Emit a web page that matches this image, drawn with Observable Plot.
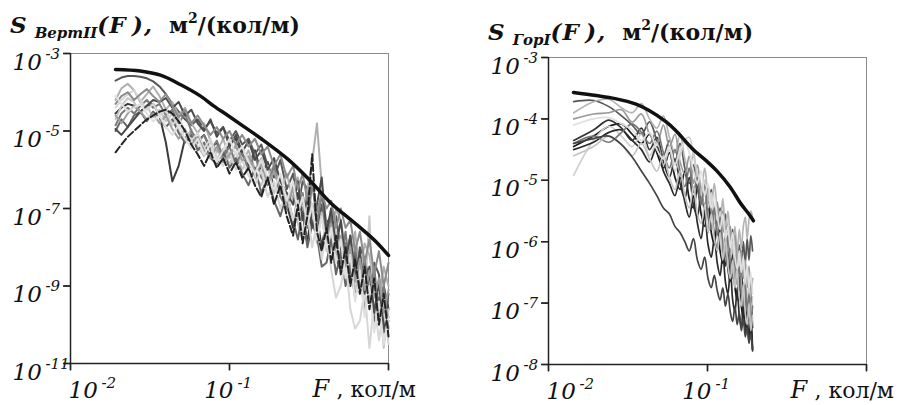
<!DOCTYPE html>
<html><head><meta charset="utf-8">
<script src="https://cdn.jsdelivr.net/npm/d3@7"></script>
<script src="https://cdn.jsdelivr.net/npm/@observablehq/plot@0.6"></script>
<style>
body{margin:0;background:#fff;}
#wrap{position:relative;width:909px;height:405px;overflow:hidden;font-family:'DejaVu Serif',serif;color:#111;}
.title{position:absolute;font-weight:bold;font-size:22px;line-height:26px;white-space:nowrap;}
.title i{font-style:italic;}
.title .S{font-size:23px;}
.title .sb{font-size:15px;font-style:italic;position:relative;top:5px;margin-left:8px;}
.title .fn{font-size:23px;letter-spacing:1px;}
.title .un{margin-left:16px;}
.title .sp{font-size:14px;position:relative;top:-10px;}
#left{position:absolute;left:0;top:40px;}
#right{position:absolute;left:455px;top:40px;}
</style></head>
<body>
<div id="wrap">
  <div class="title" style="left:10px;top:12px;"><i class="S">S</i><span class="sb">ВертII</span><i class="fn">(F&#8201;),</i><span class="un">м<span class="sp">2</span>/(кол/м)</span></div>
  <div class="title" style="left:488px;top:19px;"><i class="S">S</i><span class="sb">ГорI</span><i class="fn">(F&#8201;),</i><span class="un">м<span class="sp">2</span>/(кол/м)</span></div>
  <div id="left"></div>
  <div id="right"></div>
</div>
<script>
// ---------- shared axis labels ----------
const xTickValues = [0.01, 0.1, 1];
const xLabelValues = [0.01, 0.1];
const xLabelExps = ["-2", "-1"];
const xAxisName = "F";
const xAxisUnit = ", кол/м";

// ---------- left panel (Верт II) ----------
const vertYTicks = [1e-3, 1e-5, 1e-7, 1e-9, 1e-11];
const vertYExps = ["-3", "-5", "-7", "-9", "-11"];
const vertF = [0.0192, 0.0209, 0.0229, 0.0251, 0.0275, 0.0302, 0.0331, 0.0363, 0.0398, 0.0437, 0.0479, 0.0525, 0.0575, 0.0631, 0.0692, 0.0759, 0.0832, 0.0912, 0.1, 0.1096, 0.1202, 0.1318, 0.1445, 0.1585, 0.1738, 0.1905, 0.2089, 0.2291, 0.2512, 0.2692, 0.2884, 0.3090, 0.3311, 0.3548, 0.3802, 0.4074, 0.4365, 0.4677, 0.5012, 0.5370, 0.5754, 0.6166, 0.6607, 0.7079, 0.7586, 0.8128, 0.8710, 0.9333, 1.0];
// log10 of spectral density for each record
const vertA = [-4.55,-4.40,-4.30,-4.35,-4.50,-4.35,-4.30, -4.60,-5.30,-6.30,-5.90,-5.20,-5.00,-5.25, -5.10,-5.45,-5.30,-5.65,-5.35,-5.20,-5.60, -5.90,-5.50,-6.10,-5.80,-6.50,-6.20,-6.90, -7.50,-6.60,-7.10,-7.90,-6.90,-7.20,-8.00, -7.30,-7.50,-8.30,-8.60,-7.90,-8.80,-8.10, -9.10,-8.40,-8.70,-9.60,-9.90,-9.00,-9.60];
const vertB = [-3.70,-3.62,-3.58,-3.58,-3.60,-3.64,-3.72, -3.85,-4.05,-4.30,-4.50,-4.70,-4.85,-4.70, -4.95,-4.75,-5.05,-4.90,-5.25,-5.00,-5.35, -5.20,-5.60,-5.35,-5.90,-6.20,-5.75,-6.50, -6.10,-7.00,-6.30,-6.50,-7.40,-7.60,-6.90, -7.80,-7.00,-7.20,-8.10,-8.40,-7.70,-8.80, -8.00,-8.30,-9.20,-8.40,-8.70,-10.00,-9.20];
const vertC = [-4.20,-3.90,-3.78,-3.95,-4.25,-4.05,-3.85, -4.10,-4.45,-4.25,-4.60,-4.40,-4.80,-5.05, -4.80,-5.25,-5.55,-5.20,-5.70,-5.35,-5.80, -5.50,-6.00,-5.70,-6.30,-5.85,-6.60,-6.10, -6.80,-6.20,-7.20,-6.50,-5.80,-4.80,-6.40, -7.40,-7.90,-7.00,-7.30,-8.10,-8.40,-7.60, -8.70,-7.90,-8.20,-9.00,-9.40,-8.50,-9.00];
const vertD = [-4.70,-4.35,-4.15,-4.25,-4.55,-4.35,-4.65, -4.45,-4.75,-4.55,-5.00,-5.25,-4.95,-5.40, -5.65,-5.30,-5.75,-5.45,-5.85,-5.55,-6.00, -5.70,-6.20,-6.40,-5.90,-6.60,-6.20,-7.00, -6.40,-7.40,-7.80,-6.70,-6.90,-7.90,-7.10, -8.10,-7.30,-7.60,-8.40,-8.80,-7.90,-9.20, -8.40,-9.30,-7.20,-10.10,-9.20,-10.60,-9.60];
const vertE = [-4.85,-4.55,-4.40,-4.55,-4.35,-4.20,-4.40, -4.30,-4.60,-4.45,-4.80,-4.55,-5.00,-5.30, -5.10,-5.50,-5.25,-5.70,-5.40,-5.85,-5.55, -6.00,-5.60,-6.20,-6.40,-5.90,-6.70,-7.00, -6.40,-7.20,-6.60,-7.50,-6.30,-7.40,-6.60, -7.80,-7.20,-8.20,-8.40,-7.60,-8.70,-8.00, -9.00,-8.30,-9.30,-8.50,-9.80,-9.00,-10.10];
const vertF2 = [-5.55,-5.35,-5.15,-5.00,-4.85,-4.70,-4.60, -4.50,-4.45,-4.55,-4.75,-5.00,-5.35,-5.60, -5.90,-5.55,-5.95,-5.70,-6.10,-5.80,-6.20, -5.95,-6.40,-6.70,-6.20,-6.90,-6.40,-7.20, -7.70,-6.90,-7.90,-7.20,-5.60,-7.60,-8.10, -7.50,-8.40,-7.70,-8.70,-8.00,-9.00,-8.30, -9.20,-8.50,-9.60,-8.80,-10.00,-9.20,-10.30];
const vertG = [-5.00,-4.70,-4.90,-4.60,-4.50,-4.75,-4.50, -4.65,-4.90,-4.70,-5.05,-5.30,-5.10,-5.50, -5.30,-5.70,-5.85,-5.50,-5.95,-5.70,-6.10, -6.40,-5.95,-6.60,-6.20,-6.80,-7.20,-6.60, -7.30,-7.80,-7.10,-8.00,-7.40,-7.70,-8.50, -8.40,-7.80,-8.70,-8.10,-9.00,-8.40,-9.30, -8.70,-9.60,-9.10,-9.90,-9.30,-10.20,-9.90];
const vertH = [-4.40,-4.20,-4.05,-3.95,-4.20,-4.45,-4.30, -4.60,-4.45,-4.85,-4.65,-5.00,-5.25,-5.05, -5.45,-5.20,-5.65,-5.90,-5.55,-6.00,-5.75, -6.15,-6.40,-6.00,-6.70,-6.30,-7.00,-6.60, -7.30,-6.80,-7.70,-7.10,-8.00,-7.40,-8.30, -7.60,-8.60,-9.30,-9.00,-8.30,-9.60,-10.10, -9.90,-9.10,-10.60,-9.40,-10.40,-9.60,-10.50];
const vertI = [-4.95,-5.10,-4.90,-4.70,-4.50,-4.35,-4.20, -4.25,-4.15,-4.40,-4.25,-4.60,-4.45,-4.80, -5.00,-4.70,-5.15,-4.90,-5.40,-5.10,-5.55, -5.25,-5.75,-5.50,-6.00,-5.70,-6.30,-6.60, -6.90,-6.30,-7.30,-6.70,-7.50,-6.90,-6.20, -7.60,-7.00,-8.00,-7.30,-8.40,-7.70,-8.80, -8.10,-9.20,-8.50,-9.70,-8.90,-10.10,-9.80];
const vertJ = [-4.30,-4.10,-4.00,-4.20,-4.05,-3.92,-4.10, -4.25,-4.05,-4.35,-4.65,-4.45,-4.80,-4.60, -4.85,-5.10,-4.90,-5.20,-5.00,-5.35,-5.10, -5.40,-5.20,-5.60,-5.40,-5.90,-5.60,-6.20, -5.90,-6.50,-6.10,-6.80,-6.30,-7.10,-6.60, -7.00,-6.80,-7.50,-7.00,-7.50,-7.30,-8.10, -7.60,-8.40,-7.80,-8.70,-8.10,-9.00,-8.40];
const vertK = [-4.60,-4.80,-4.55,-4.35,-4.50,-4.70,-4.55, -4.80,-4.60,-4.95,-5.20,-4.95,-5.35,-5.15, -5.50,-5.70,-5.40,-5.80,-5.60,-5.40,-5.75, -5.65,-6.05,-5.85,-6.35,-6.05,-6.50,-6.85, -6.50,-7.10,-6.80,-7.40,-7.00,-7.70,-7.20, -7.90,-7.40,-8.30,-7.70,-8.50,-8.00,-8.90, -8.30,-9.10,-8.60,-9.30,-8.80,-9.70,-9.10];
const vertL = [-4.10,-4.30,-4.50,-4.40,-4.30,-4.55,-4.75, -4.60,-4.90,-5.10,-4.85,-5.20,-5.45,-5.20, -5.60,-5.35,-5.80,-5.50,-5.20,-5.60,-5.40, -5.80,-6.10,-5.75,-6.20,-6.50,-6.10,-6.80, -6.30,-7.10,-6.70,-7.40,-6.90,-7.80,-7.20, -8.00,-7.50,-8.40,-7.80,-8.80,-8.20,-9.40, -8.60,-9.80,-9.00,-10.20,-9.40,-10.50,-9.80];
// model (thick black) curve
const vertModelF = [0.0192, 0.0275, 0.0368, 0.049, 0.0658, 0.0794, 0.0977, 0.1225, 0.1585, 0.2317, 0.3162, 0.4315, 0.5623, 0.6668, 0.8318, 1.0];
const vertModelLg = [-3.41, -3.45, -3.56, -3.80, -4.10, -4.35, -4.60, -4.88, -5.20, -5.72, -6.25, -6.85, -7.25, -7.50, -7.85, -8.21];

// ---------- right panel (Гор I) ----------
const horYTicks = [1e-3, 1e-4, 1e-5, 1e-6, 1e-7, 1e-8];
const horYExps = ["-3", "-4", "-5", "-6", "-7", "-8"];
const horF = [0.0144, 0.0192, 0.024, 0.0288, 0.0336, 0.0384, 0.0432, 0.048, 0.0528, 0.0576, 0.0624, 0.0672, 0.072, 0.0768, 0.0816, 0.0864, 0.0912, 0.096, 0.1008, 0.1056, 0.1104, 0.1152, 0.12, 0.1248, 0.1296, 0.1344, 0.1392, 0.144, 0.1488, 0.1536, 0.1584, 0.1632, 0.168, 0.1728, 0.1776, 0.1824, 0.1872, 0.192];
const hor1 = [-4.45,-4.28,-4.12,-4.08,-4.25,-4.40,-4.25,-4.55,-4.80,-4.55, -4.95,-5.15,-4.85,-5.30,-5.45,-5.10,-5.55,-5.75,-5.35,-5.85, -6.05,-5.65,-6.15,-6.35,-5.90,-6.45,-6.65,-6.20,-6.75,-6.95, -6.50,-7.05,-7.25,-6.80,-7.35,-7.55,-7.20,-7.75];
const hor2 = [-4.35,-4.18,-4.02,-4.15,-4.35,-4.15,-4.50,-4.30,-4.70,-4.95, -4.65,-5.05,-5.30,-4.95,-5.40,-5.60,-5.20,-5.55,-5.85,-5.45, -5.90,-6.15,-5.70,-6.15,-6.40,-6.00,-6.50,-6.15,-6.65,-6.30, -6.80,-6.45,-6.95,-6.55,-7.05,-7.30,-6.85,-7.40];
const hor3 = [-3.72,-3.70,-3.80,-3.95,-4.10,-4.25,-4.05,-4.35,-4.60,-4.35, -4.70,-4.40,-4.80,-5.05,-4.75,-5.15,-5.35,-5.00,-5.45,-5.15, -5.55,-5.80,-5.45,-5.85,-5.55,-6.00,-6.25,-5.80,-6.25,-6.45, -6.05,-6.40,-6.00,-6.35,-5.95,-6.30,-5.90,-6.15];
const hor4 = [-3.90,-3.72,-3.68,-3.82,-3.90,-3.75,-4.00,-4.15,-3.95,-4.30, -4.55,-4.25,-4.65,-4.85,-4.55,-5.00,-5.15,-4.80,-5.25,-5.40, -5.05,-5.50,-5.70,-5.30,-5.80,-5.50,-5.95,-6.15,-5.75,-6.20, -5.80,-6.10,-5.75,-5.60,-5.95,-5.65,-5.50,-5.60];
const hor5 = [-4.00,-3.92,-3.90,-3.85,-4.05,-3.92,-4.25,-4.40,-4.10,-4.45, -4.25,-4.70,-4.90,-4.60,-5.05,-4.75,-5.20,-5.40,-5.10,-5.50, -5.70,-5.35,-5.80,-5.50,-5.95,-6.15,-5.75,-6.20,-5.90,-6.35, -6.55,-6.15,-6.60,-6.30,-6.75,-6.40,-6.90,-6.60];
const hor6 = [-4.92,-4.35,-4.12,-4.28,-4.45,-4.25,-4.60,-4.40,-4.75,-4.50, -4.85,-4.60,-4.35,-4.30,-4.60,-4.90,-5.25,-5.00,-5.45,-5.20, -5.60,-5.85,-5.50,-5.95,-6.20,-5.85,-6.30,-6.00,-6.45,-6.65, -6.25,-6.70,-6.95,-6.55,-7.05,-6.70,-7.20,-6.90];
const hor7 = [-4.50,-4.38,-4.22,-4.18,-4.35,-4.50,-4.70,-4.45,-4.85,-5.05, -5.25,-4.95,-5.35,-5.60,-5.25,-5.70,-5.95,-5.55,-6.05,-6.25, -5.95,-6.35,-6.55,-6.20,-6.65,-6.85,-6.45,-6.95,-7.15,-6.75, -7.20,-7.40,-7.00,-7.50,-7.20,-7.65,-7.35,-7.78];
const hor8 = [-4.40,-4.28,-4.38,-4.22,-4.08,-4.22,-4.40,-4.20,-4.55,-4.80, -4.50,-4.85,-5.10,-4.80,-5.20,-4.95,-5.40,-5.10,-5.60,-5.80, -5.45,-5.90,-5.60,-6.05,-6.25,-5.90,-6.35,-6.60,-6.25,-6.70, -6.40,-6.85,-7.05,-6.70,-7.15,-6.85,-7.30,-7.05];
const hor9 = [-4.60,-4.45,-4.28,-4.42,-4.60,-4.40,-4.65,-4.85,-4.60,-4.95, -5.15,-4.85,-5.25,-5.45,-5.10,-5.55,-5.70,-5.40,-5.85,-5.55, -5.95,-6.15,-5.85,-6.30,-5.95,-6.40,-6.60,-6.30,-6.75,-6.45, -6.90,-7.05,-6.70,-7.15,-7.35,-7.00,-7.45,-7.20];
const hor10 = [-4.40,-4.32,-4.28,-4.42,-4.62,-4.85,-5.05,-5.25,-5.45,-5.55, -5.75,-5.85,-6.00,-6.15,-5.95,-6.30,-6.45,-6.25,-6.60,-6.75, -6.55,-6.80,-6.95,-6.75,-7.05,-6.85,-7.15,-7.30,-7.05,-7.35, -7.15,-7.45,-7.25,-7.55,-7.40,-7.65,-7.50,-7.75];
const hor11 = [-4.10,-4.00,-3.98,-4.08,-4.18,-4.35,-4.22,-4.50,-4.65,-4.45, -4.75,-4.50,-4.40,-4.55,-4.85,-5.05,-4.85,-5.25,-5.05,-5.45, -5.25,-5.60,-5.80,-5.55,-5.95,-5.75,-6.10,-5.85,-6.25,-6.45, -6.15,-6.50,-6.25,-6.65,-6.40,-6.75,-6.50,-6.85];
const horModelF = [0.01435, 0.01995, 0.0263, 0.0355, 0.0427, 0.0550, 0.0631, 0.0813, 0.1, 0.1148, 0.138, 0.162, 0.182, 0.1945];
const horModelLg = [-3.57, -3.62, -3.67, -3.76, -3.86, -4.05, -4.19, -4.50, -4.70, -4.85, -5.10, -5.38, -5.55, -5.66];

// ---------- styling (kept apart from data) ----------
const FONT = "DejaVu Serif";
const vertSeries = [
  ["A", vertA, "#3a3a3a", null], ["B", vertB, "#575757", null], ["C", vertC, "#b0b0b0", null],
  ["D", vertD, "#c6c6c6", null], ["E", vertE, "#7a7a7a", null], ["F", vertF2, "#222222", "7,3"],
  ["G", vertG, "#666666", null], ["H", vertH, "#d6d6d6", null], ["I", vertI, "#4a4a4a", null],
  ["J", vertJ, "#8c8c8c", null], ["K", vertK, "#9e9e9e", null], ["L", vertL, "#e0e0e0", null]
];
const horSeries = [
  ["1", hor1, "#1a1a1a", null], ["2", hor2, "#333333", null], ["3", hor3, "#555555", null],
  ["4", hor4, "#b5b5b5", null], ["5", hor5, "#999999", null], ["6", hor6, "#d0d0d0", null],
  ["7", hor7, "#2a2a2a", null], ["8", hor8, "#777777", null], ["9", hor9, "#c4c4c4", null],
  ["10", hor10, "#444444", null], ["11", hor11, "#e0e0e0", null]
];

// tick glyphs drawn at the frame edge (a short stroke pointing outward)
const tickLeft = {draw(ctx) { ctx.moveTo(-7, 0); ctx.lineTo(0, 0); }};
const tickDown = {draw(ctx) { ctx.moveTo(0, 0); ctx.lineTo(0, 7); }};

function panel(cfg) {
  const rows = [];
  for (const [id, lg, , dash] of cfg.series) {
    const n = Math.min(lg.length, cfg.F.length);
    for (let i = 0; i < n; i++) rows.push({F: cfg.F[i], S: Math.pow(10, lg[i]), id, dashed: !!dash});
  }
  const model = cfg.modelF.map((f, i) => ({F: f, S: Math.pow(10, cfg.modelLg[i])}));
  const yLab = cfg.yTicks.map((v, i) => ({v, e: cfg.yExps[i]}));
  const xLab = xLabelValues.map((v, i) => ({v, e: xLabelExps[i]}));
  const ids = cfg.series.map(s => s[0]);
  const cols = cfg.series.map(s => s[2]);
  const dashSpec = (cfg.series.find(s => s[3]) || [])[3];
  const plotW = cfg.width - cfg.mL - cfg.mR;
  const plotH = cfg.height - cfg.mT - cfg.mB;
  const txt = {fontFamily: FONT, fill: "#111", lineAnchor: "bottom"};
  const marks = [
    Plot.frame({stroke: "#8a8a8a", strokeWidth: 1}),
    Plot.line(rows, {filter: d => !d.dashed, x: "F", y: "S", z: "id", stroke: "id", strokeWidth: cfg.sw, curve: cfg.curve}),
    Plot.line(rows, {filter: d => d.dashed, x: "F", y: "S", z: "id", stroke: "id", strokeWidth: cfg.sw, strokeDasharray: dashSpec, curve: cfg.curve}),
    Plot.line(model, {x: "F", y: "S", stroke: "#111", strokeWidth: 3.5, curve: "catmull-rom"}),
    Plot.ruleX([0.01], {stroke: "#222", strokeWidth: 1.5}),
    Plot.ruleY([cfg.yDomain[0]], {stroke: "#222", strokeWidth: 1.5}),
    // tick marks outside the frame
    Plot.tickY(cfg.yTicks, {y: d => d, stroke: "#222", strokeWidth: 1.4, insetLeft: -7, insetRight: plotW}),
    Plot.tickX(xTickValues, {x: d => d, stroke: "#222", strokeWidth: 1.4, insetTop: plotH, insetBottom: -7}),
    Plot.dot(cfg.yTicks, {y: d => d, frameAnchor: "left", symbol: tickLeft, r: 3, fill: "none", stroke: "#222", strokeWidth: 1.4}),
    Plot.dot(xTickValues, {x: d => d, frameAnchor: "bottom", symbol: tickDown, r: 3, fill: "none", stroke: "#222", strokeWidth: 1.4}),
    // y tick labels: "10" + exponent
    Plot.text(yLab, {...txt, y: "v", frameAnchor: "left", text: () => "10", textAnchor: "start", dx: -58, dy: 16, fontSize: 23, fontStyle: "italic"}),
    Plot.text(yLab, {...txt, y: "v", frameAnchor: "left", text: "e", textAnchor: "start", dx: -25, dy: 5, fontSize: 15, fontStyle: "italic"}),
    // x tick labels
    Plot.text(xLab, {...txt, filter: (d, i) => i === 0, x: "v", frameAnchor: "bottom", text: () => "10", textAnchor: "start", dx: -2, dy: 34, fontSize: 23, fontStyle: "italic"}),
    Plot.text(xLab, {...txt, filter: (d, i) => i === 0, x: "v", frameAnchor: "bottom", text: "e", textAnchor: "start", dx: 31, dy: 24, fontSize: 15, fontStyle: "italic"}),
    Plot.text(xLab, {...txt, filter: (d, i) => i > 0, x: "v", frameAnchor: "bottom", text: () => "10", textAnchor: "end", dx: 4, dy: 34, fontSize: 23, fontStyle: "italic"}),
    Plot.text(xLab, {...txt, filter: (d, i) => i > 0, x: "v", frameAnchor: "bottom", text: "e", textAnchor: "start", dx: 8, dy: 24, fontSize: 15, fontStyle: "italic"}),
    // axis name at 10^0
    Plot.text([1], {...txt, x: d => d, frameAnchor: "bottom", text: () => xAxisName, textAnchor: "start", dx: -76, dy: 33, fontSize: 24, fontStyle: "italic"}),
    Plot.text([1], {...txt, x: d => d, frameAnchor: "bottom", text: () => xAxisUnit, textAnchor: "start", dx: -52, dy: 33, fontSize: 22})
  ];
  return Plot.plot({
    width: cfg.width, height: cfg.height,
    marginLeft: cfg.mL, marginRight: cfg.mR, marginTop: cfg.mT, marginBottom: cfg.mB,
    style: {background: "transparent", overflow: "visible", color: "#222"},
    x: {type: "log", domain: [0.01, 1], axis: null},
    y: {type: "log", domain: cfg.yDomain, axis: null},
    color: {type: "ordinal", domain: ids, range: cols},
    marks
  });
}

document.getElementById("left").appendChild(panel({
  F: vertF, series: vertSeries, modelF: vertModelF, modelLg: vertModelLg,
  yDomain: [1e-11, 1e-3], yTicks: vertYTicks, yExps: vertYExps,
  width: 450, height: 365, mL: 70, mR: 62, mT: 13, mB: 42, curve: "linear", sw: 2
}));
document.getElementById("right").appendChild(panel({
  F: horF, series: horSeries, modelF: horModelF, modelLg: horModelLg,
  yDomain: [1e-8, 1e-3], yTicks: horYTicks, yExps: horYExps,
  width: 454, height: 365, mL: 93, mR: 43, mT: 17, mB: 41, curve: "catmull-rom", sw: 1.7
}));
</script>
</body></html>
